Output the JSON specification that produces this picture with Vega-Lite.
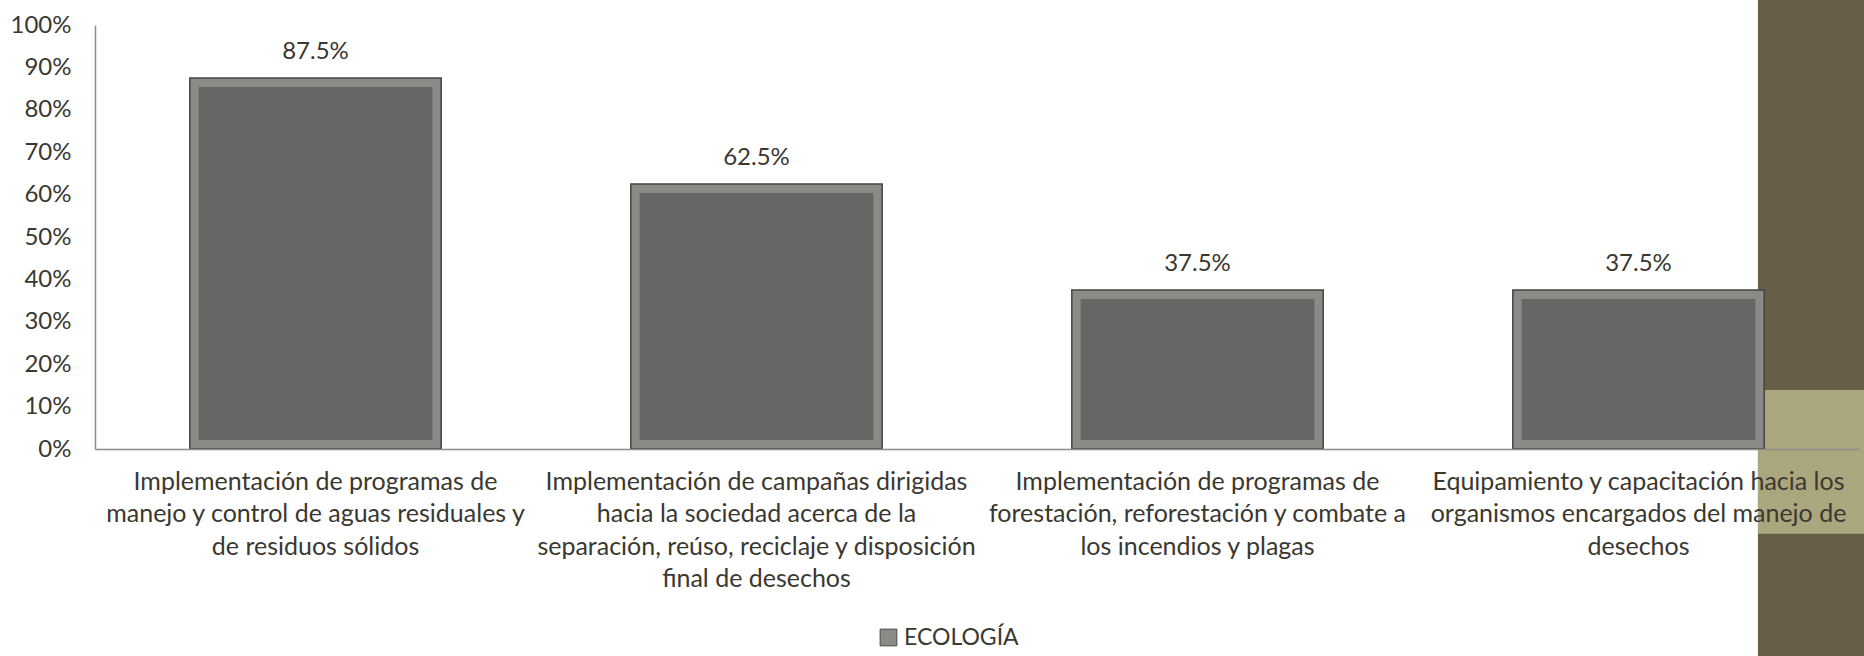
{
  "$schema": "https://vega.github.io/schema/vega-lite/v6.json",
  "width": 1764,
  "height": 424,
  "autosize": "none",
  "padding": {"left": 95, "top": 25, "right": 5, "bottom": 207},
  "background": "#ffffff",
  "config": {
    "font": "Lato",
    "view": {"stroke": null},
    "axis": {"labelFont": "Lato", "labelColor": "#3a3830", "grid": false, "ticks": false, "domainColor": "#8c8c8c", "domainWidth": 1.5, "zindex": 1},
    "legend": {"labelFont": "Lato", "labelColor": "#3a3830"}
  },
  "data": {
    "values": [
      {"categoria": "Implementación de programas de manejo y control de aguas residuales y de residuos sólidos", "valor": 0.875, "serie": "ECOLOGÍA"},
      {"categoria": "Implementación de campañas dirigidas hacia la sociedad acerca de la separación, reúso, reciclaje y disposición final de desechos", "valor": 0.625, "serie": "ECOLOGÍA"},
      {"categoria": "Implementación de programas de forestación, reforestación y combate a los incendios y plagas", "valor": 0.375, "serie": "ECOLOGÍA"},
      {"categoria": "Equipamiento y capacitación hacia los organismos encargados del manejo de desechos", "valor": 0.375, "serie": "ECOLOGÍA"}
    ]
  },
  "resolve": {"scale": {"x": "independent"}, "axis": {"x": "independent"}},
  "layer": [
    {
      "data": {"values": [{"parte": "barra lateral"}]},
      "layer": [
        {
          "mark": {"type": "rect", "color": "#675e48", "clip": false},
          "encoding": {
            "x": {"datum": 0.9427, "type": "quantitative"},
            "x2": {"datum": 1.01},
            "y": {"datum": 1.06, "type": "quantitative"},
            "y2": {"datum": -0.49}
          }
        },
        {
          "mark": {"type": "rect", "color": "#aaa67e", "clip": false},
          "encoding": {
            "x": {"datum": 0.9427, "type": "quantitative"},
            "x2": {"datum": 1.01},
            "y": {"datum": 0.139, "type": "quantitative"},
            "y2": {"datum": -0.2}
          }
        }
      ],
      "encoding": {
        "x": {"type": "quantitative", "scale": {"domain": [0, 1], "nice": false, "zero": false}, "axis": null}
      }
    },
    {
      "layer": [
        {
          "mark": {"type": "bar", "width": {"band": 1}, "stroke": "#45443f", "strokeWidth": 1.5},
          "encoding": {
            "color": {"field": "serie", "type": "nominal", "scale": {"range": ["#8c8a86"]},
              "legend": {"orient": "none", "legendX": 782, "legendY": 601, "direction": "horizontal", "title": null, "labelFontSize": 23, "symbolType": "square", "symbolSize": 280, "symbolStrokeColor": "#4a4a46", "symbolStrokeWidth": 1, "labelOffset": 4}}
          }
        },
        {
          "mark": {"type": "bar", "width": {"band": 0.93}, "color": "#686664", "yOffset": 9, "y2Offset": -9},
          "encoding": {"y2": {"datum": 0}}
        },
        {
          "mark": {"type": "text", "baseline": "bottom", "dy": -14, "fontSize": 24, "color": "#3a3830", "font": "Lato"},
          "encoding": {"text": {"field": "valor", "type": "quantitative", "format": ".1%"}}
        }
      ],
      "encoding": {
        "x": {
          "field": "categoria", "type": "nominal", "sort": null,
          "scale": {"paddingInner": 0.43, "paddingOuter": 0.215},
          "axis": {
            "orient": "bottom", "zindex": 2, "title": null, "labelAngle": 0, "labelFontSize": 25, "labelPadding": 20, "labelLineHeight": 32.5, "labelBaseline": "top", "labelLimit": 0,
            "labelExpr": "indexof(datum.value, 'aguas') >= 0 ? ['Implementación de programas de', 'manejo y control de aguas residuales y', 'de residuos sólidos'] : indexof(datum.value, 'campañas') >= 0 ? ['Implementación de campañas dirigidas', 'hacia la sociedad acerca de la', 'separación, reúso, reciclaje y disposición', 'final de desechos'] : indexof(datum.value, 'forestación') >= 0 ? ['Implementación de programas de', 'forestación, reforestación y combate a', 'los incendios y plagas'] : ['Equipamiento y capacitación hacia los', 'organismos encargados del manejo de', 'desechos']"
          }
        },
        "y": {
          "field": "valor", "type": "quantitative",
          "scale": {"domain": [0, 1], "nice": false},
          "axis": {"title": null, "format": "%", "values": [0, 0.1, 0.2, 0.3, 0.4, 0.5, 0.6, 0.7, 0.8, 0.9, 1], "labelFontSize": 24, "labelPadding": 24}
        }
      }
    }
  ]
}
